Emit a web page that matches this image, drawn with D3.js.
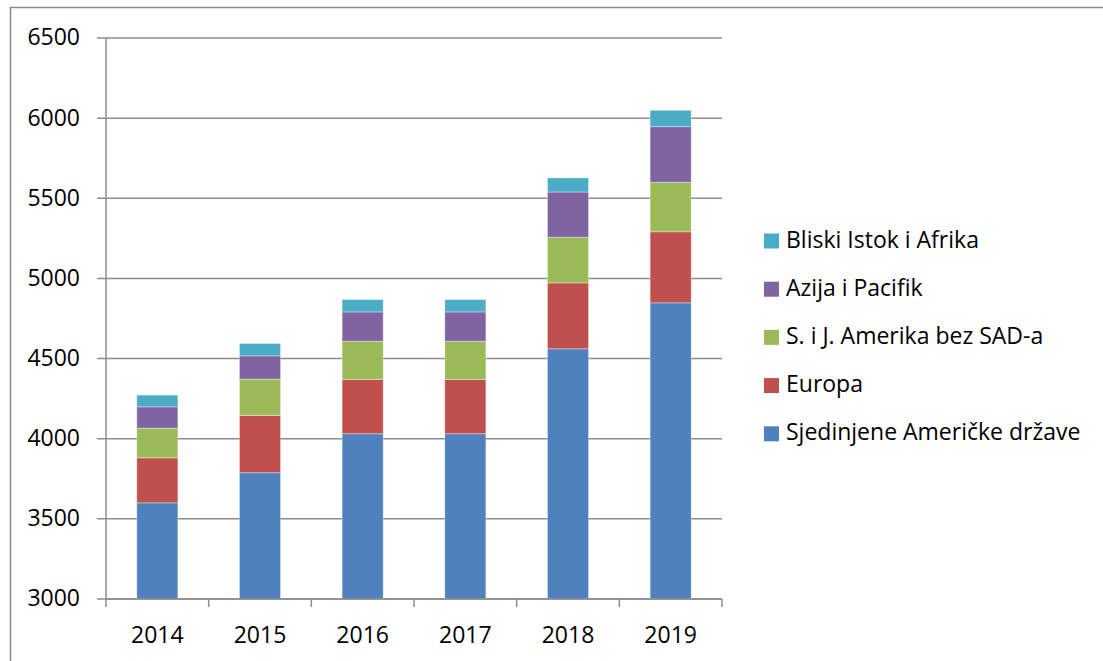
<!DOCTYPE html>
<html>
<head>
<meta charset="utf-8">
<script src="https://cdn.jsdelivr.net/npm/d3@7"></script>
<style>
  body { margin: 0; background: #fff; }
  svg { display: block; font-family: "Open Sans", sans-serif; }
</style>
</head>
<body>
<svg id="chart" width="1103" height="661"></svg>
<script>
// values (stacked, bottom to top)
var years = ["2014", "2015", "2016", "2017", "2018", "2019"];
var sad = [3600, 3788, 4031, 4031, 4561, 4848];
var europa = [281, 357, 339, 339, 411, 443];
var amerika = [185, 227, 238, 238, 285, 309];
var azija = [133, 145, 183, 183, 282, 347];
var istok = [73, 77, 77, 77, 88, 102];
var yTicks = [3000, 3500, 4000, 4500, 5000, 5500, 6000, 6500];

var series = [
  { key: "sad", name: "Sjedinjene Američke države", color: "#4F81BD", values: sad },
  { key: "europa", name: "Europa", color: "#C0504D", values: europa },
  { key: "amerika", name: "S. i J. Amerika bez SAD-a", color: "#9BBB59", values: amerika },
  { key: "azija", name: "Azija i Pacifik", color: "#8064A2", values: azija },
  { key: "istok", name: "Bliski Istok i Afrika", color: "#4BACC6", values: istok }
];

var rows = years.map(function(y, i) {
  var r = { year: y };
  series.forEach(function(s) { r[s.key] = s.values[i]; });
  return r;
});

var svg = d3.select("#chart");
var gray = "#8c8c8c";

// outer frame
svg.append("rect")
    .attr("x", 10.5).attr("y", 7.5)
    .attr("width", 1110).attr("height", 670)
    .attr("fill", "none").attr("stroke", gray).attr("stroke-width", 1.5);

var plotLeft = 106, plotRight = 722, plotTop = 38, plotBottom = 599;

var x = d3.scaleBand().domain(years).range([plotLeft, plotRight])
    .paddingInner(0.6).paddingOuter(0.3);
var xTicks = d3.scaleBand().domain(years).range([plotLeft, plotRight]);
var y = d3.scaleLinear().domain([3000, 6500]).range([plotBottom, plotTop]);

// gridlines
svg.append("g").selectAll("line")
    .data(yTicks)
    .enter().append("line")
      .attr("x1", plotLeft - 9).attr("x2", plotRight)
      .attr("y1", function(d) { return y(d); })
      .attr("y2", function(d) { return y(d); })
      .attr("stroke", gray).attr("stroke-width", 1.5);

// y labels
svg.append("g").selectAll("text")
    .data(yTicks)
    .enter().append("text")
      .attr("x", 80)
      .attr("y", function(d) { return y(d); })
      .attr("dy", "0.32em")
      .attr("text-anchor", "end")
      .attr("font-size", 23)
      .attr("fill", "#000")
      .text(function(d) { return d; });

// stacked bars
var stack = d3.stack().keys(series.map(function(s) { return s.key; }));
var stacked = stack(rows);

svg.append("g").selectAll("g")
    .data(stacked)
    .enter().append("g")
      .attr("fill", function(d, i) { return series[i].color; })
    .selectAll("rect")
    .data(function(d) { return d; })
    .enter().append("rect")
      .attr("x", function(d) { return x(d.data.year); })
      .attr("width", x.bandwidth())
      .attr("y", function(d) { return y(d[1]); })
      .attr("height", function(d) { return y(Math.max(d[0], 3000)) - y(d[1]); })
      .attr("stroke", "#fff").attr("stroke-opacity", 0.35).attr("stroke-width", 1);

// axis lines
svg.append("line")
    .attr("x1", plotLeft).attr("x2", plotLeft).attr("y1", plotTop).attr("y2", plotBottom)
    .attr("stroke", gray).attr("stroke-width", 1.5);
svg.append("line")
    .attr("x1", plotLeft).attr("x2", plotRight).attr("y1", plotBottom).attr("y2", plotBottom)
    .attr("stroke", gray).attr("stroke-width", 1.5);

// category ticks
var bounds = years.map(function(d) { return xTicks(d); }).concat([plotRight]);
svg.append("g").selectAll("line")
    .data(bounds)
    .enter().append("line")
      .attr("x1", function(d) { return d; }).attr("x2", function(d) { return d; })
      .attr("y1", plotBottom).attr("y2", plotBottom + 8)
      .attr("stroke", gray).attr("stroke-width", 1.5);

svg.append("g").selectAll("text")
    .data(years)
    .enter().append("text")
      .attr("x", function(d) { return xTicks(d) + xTicks.bandwidth() / 2; })
      .attr("y", 643)
      .attr("text-anchor", "middle")
      .attr("font-size", 23)
      .text(function(d) { return d; });

// legend (top item is the last series)
var legend = svg.append("g").selectAll("g")
    .data(series.slice().reverse())
    .enter().append("g")
      .attr("transform", function(d, i) { return "translate(764," + (241 + i * 48.2) + ")"; });

legend.append("rect")
    .attr("x", 0).attr("y", -7.5)
    .attr("width", 15).attr("height", 15)
    .attr("fill", function(d) { return d.color; });

legend.append("text")
    .attr("x", 22)
    .attr("y", 6.5)
    .attr("font-size", 23)
    .text(function(d) { return d.name; });
</script>
</body>
</html>
